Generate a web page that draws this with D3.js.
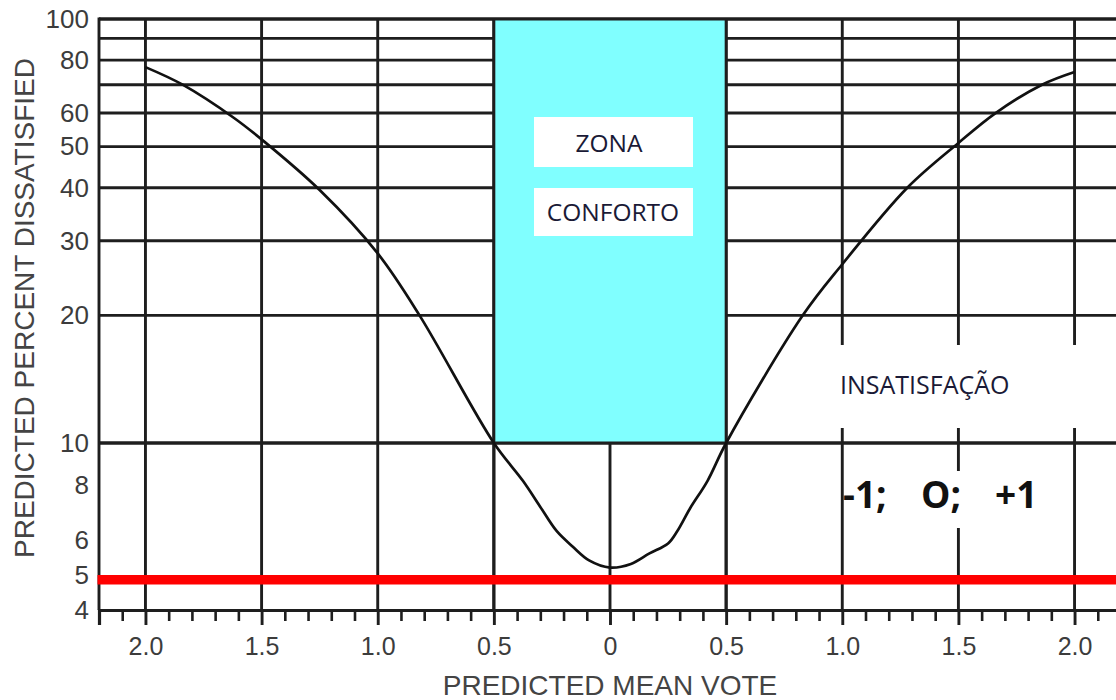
<!DOCTYPE html>
<html>
<head>
<meta charset="utf-8">
<script src="https://cdn.jsdelivr.net/npm/d3@7"></script>
<style>
  html, body { margin: 0; padding: 0; background: #fff; }
  svg { display: block; }
</style>
</head>
<body>
<svg id="chart" width="1116" height="700"></svg>
<script>
// ---- data ----
const pmv = [-2.0, -1.84, -1.62, -1.5, -1.25, -1.0, -0.82, -0.5, -0.375, -0.30, -0.23, -0.16, -0.09, 0.0, 0.09, 0.17, 0.25, 0.29, 0.345, 0.42, 0.5, 0.83, 1.0, 1.28, 1.5, 1.66, 1.86, 2.0];
const ppd = [77, 70, 58.5, 52, 39.5, 28, 20, 10, 8.2, 7.15, 6.3, 5.8, 5.4, 5.2, 5.3, 5.6, 5.9, 6.3, 7.1, 8.2, 10, 20, 26.4, 40, 51, 60, 70, 75];

const xMajorTicks = [-2, -1.5, -1, -0.5, 0, 0.5, 1, 1.5, 2];
const xTickLabels = ["2.0", "1.5", "1.0", "0.5", "0", "0.5", "1.0", "1.5", "2.0"];
const yTickValues = [100, 80, 60, 50, 40, 30, 20, 10, 8, 6, 5, 4];
const yGridValues = [100, 90, 80, 70, 60, 50, 40, 30, 20, 10];
const comfortZone = [-0.5, 0.5];   // PMV range
const comfortPPD = [10, 100];      // PPD range
const limitPPD = 4.85;             // red line
const xTitle = "PREDICTED MEAN VOTE";
const yTitle = "PREDICTED PERCENT DISSATISFIED";

// ---- scales ----
const x = d3.scaleLinear().domain([-2.2, 2.2]).range([99, 1121]);
const y = d3.scaleLog().domain([4, 5, 10, 100]).range([610, 575, 443, 19]);

const svg = d3.select("#chart");
const gridColor = "#1e1e1e";
const gw = 2.9;
const [yTop, yBot] = [y(100), y(4)];

// horizontal grid lines
svg.append("g").selectAll("line").data(yGridValues).join("line")
  .attr("x1", x(-2.2)).attr("x2", x(2.2))
  .attr("y1", d => y(d)).attr("y2", d => y(d))
  .attr("stroke", gridColor).attr("stroke-width", gw);

// vertical grid lines
svg.append("g").selectAll("line").data(xMajorTicks).join("line")
  .attr("x1", d => x(d)).attr("x2", d => x(d))
  .attr("y1", yTop).attr("y2", yBot)
  .attr("stroke", gridColor).attr("stroke-width", gw);

// comfort zone (covers the grid inside it)
svg.append("rect")
  .attr("x", x(comfortZone[0])).attr("width", x(comfortZone[1]) - x(comfortZone[0]))
  .attr("y", y(comfortPPD[1])).attr("height", y(comfortPPD[0]) - y(comfortPPD[1]))
  .attr("fill", "#80ffff");

// redraw borders of comfort zone
svg.append("g").selectAll("line").data(comfortZone).join("line")
  .attr("x1", d => x(d)).attr("x2", d => x(d))
  .attr("y1", yTop).attr("y2", yBot)
  .attr("stroke", gridColor).attr("stroke-width", gw);
svg.append("g").selectAll("line").data(comfortPPD).join("line")
  .attr("x1", x(-2.2)).attr("x2", x(2.2))
  .attr("y1", d => y(d)).attr("y2", d => y(d))
  .attr("stroke", gridColor).attr("stroke-width", gw);

// left border
svg.append("line").attr("x1", x(-2.2)).attr("x2", x(-2.2)).attr("y1", yTop - 1.4).attr("y2", yBot)
  .attr("stroke", gridColor).attr("stroke-width", gw);

// x axis: minor ticks
const minor = d3.range(-22, 23).map(i => i / 10).filter(v => Math.abs(v * 2 - Math.round(v * 2)) > 1e-6);
const xMinor = svg.append("g").attr("transform", `translate(0,${yBot})`)
  .call(d3.axisBottom(x).tickValues(minor).tickSize(11).tickFormat(""));
xMinor.select(".domain").remove();
xMinor.selectAll(".tick line").attr("stroke", gridColor).attr("stroke-width", 2.6);

// x axis: major ticks with labels
const xAxis = svg.append("g").attr("transform", `translate(0,${yBot})`)
  .call(d3.axisBottom(x).tickValues(xMajorTicks).tickSize(15).tickPadding(12)
    .tickFormat((d, i) => xTickLabels[i]));
xAxis.select(".domain").attr("stroke", gridColor).attr("stroke-width", 3.2);
xAxis.selectAll(".tick line").attr("stroke", gridColor).attr("stroke-width", gw);
xAxis.selectAll(".tick text").attr("fill", "#3c3c3c").attr("font-family", "Liberation Sans, Arial, sans-serif")
  .attr("font-size", 25);

// y axis labels
const yAxis = svg.append("g").attr("transform", `translate(${x(-2.2)},0)`)
  .call(d3.axisLeft(y).tickValues(yTickValues).tickSize(0).tickPadding(10).tickFormat(d3.format("d")));
yAxis.select(".domain").remove();
yAxis.selectAll(".tick text").attr("fill", "#3c3c3c").attr("font-family", "Liberation Sans, Arial, sans-serif")
  .attr("font-size", 26);

// axis titles
svg.append("text").attr("x", x(0)).attr("y", 695).attr("text-anchor", "middle")
  .attr("font-family", "Liberation Sans, Arial, sans-serif").attr("font-size", 28).attr("fill", "#444")
  .text(xTitle);
svg.append("text").attr("transform", `translate(34,308) rotate(-90)`).attr("text-anchor", "middle")
  .attr("font-family", "Liberation Sans, Arial, sans-serif").attr("font-size", 28).attr("fill", "#444")
  .text(yTitle);

// PPD curve
const pts = pmv.map((v, i) => [v, ppd[i]]);
svg.append("path").datum(pts)
  .attr("d", d3.line().x(d => x(d[0])).y(d => y(d[1])).curve(d3.curveCatmullRom.alpha(0.5)))
  .attr("fill", "none").attr("stroke", "#111").attr("stroke-width", 2.7);

// red limit line
svg.append("line").attr("x1", x(-2.2) - 1.5).attr("x2", 1116).attr("y1", y(limitPPD)).attr("y2", y(limitPPD))
  .attr("stroke", "#ff0000").attr("stroke-width", 9.5);

// annotation boxes
const boxFont = "Open Sans, Lato, sans-serif";
function box(x0, y0, w, h) {
  svg.append("rect").attr("x", x0).attr("y", y0).attr("width", w).attr("height", h).attr("fill", "#fff");
}
box(534, 117, 159, 50);
box(534, 188, 159, 48);
svg.append("text").attr("x", 609).attr("y", 152).attr("text-anchor", "middle")
  .attr("font-family", boxFont).attr("font-size", 24.5).attr("fill", "#1a1a36").text("ZONA");
svg.append("text").attr("x", 613).attr("y", 221).attr("text-anchor", "middle")
  .attr("font-family", boxFont).attr("font-size", 24.5).attr("fill", "#1a1a36").text("CONFORTO");

box(830, 345, 286, 83);
svg.append("text").attr("x", 840).attr("y", 394)
  .attr("font-family", boxFont).attr("font-size", 25).attr("fill", "#1a1a36").text("INSATISFAÇÃO");

box(845, 471, 217, 57);
const pmvText = svg.append("text").attr("y", 508)
  .attr("font-family", boxFont).attr("font-weight", 700).attr("font-size", 37).attr("fill", "#111");
pmvText.append("tspan").attr("x", 843).text("-1;");
pmvText.append("tspan").attr("x", 921).text("O;");
pmvText.append("tspan").attr("x", 995).text("+1");
</script>
</body>
</html>
